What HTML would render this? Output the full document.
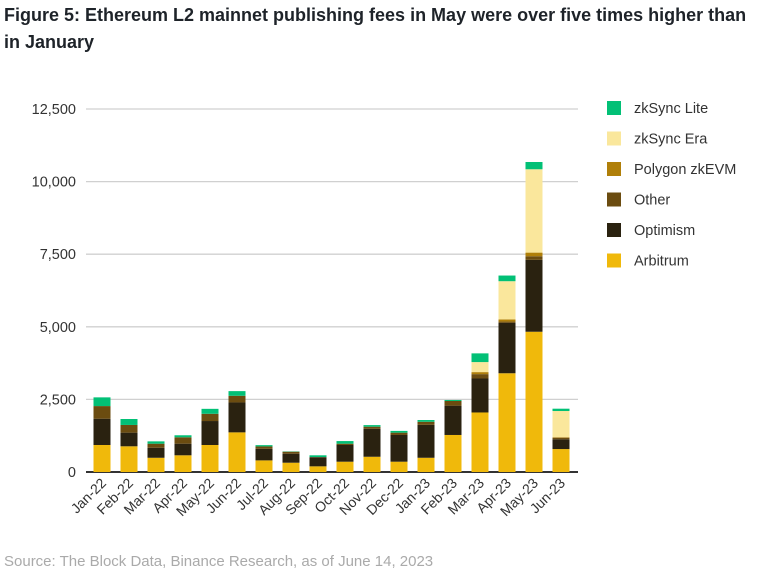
<!DOCTYPE html>
<html><head><meta charset="utf-8"><style>
body{margin:0;background:#fff;width:760px;height:575px;overflow:hidden;font-family:"Liberation Sans",sans-serif}
#title{position:absolute;left:4px;top:2px;width:756px;font-size:18px;font-weight:bold;line-height:27px;color:#1e2329;white-space:nowrap}
#src{position:absolute;left:4px;top:553px;font-size:15px;color:#aaa}
svg{position:absolute;left:0;top:0}
</style></head><body>
<div id="title">Figure 5: Ethereum L2 mainnet publishing fees in May were over five times higher than<br>in January</div>
<svg id="chart" width="760" height="575"></svg>
<div id="src">Source: The Block Data, Binance Research, as of June 14, 2023</div>
<script>
const categories=["Jan-22","Feb-22","Mar-22","Apr-22","May-22","Jun-22","Jul-22","Aug-22","Sep-22","Oct-22","Nov-22","Dec-22","Jan-23","Feb-23","Mar-23","Apr-23","May-23","Jun-23"];
const arbitrum=[930,885,490,575,930,1365,400,320,195,355,525,355,490,1275,2050,3400,4830,790];
const optimism=[905,470,345,400,825,1030,400,310,310,575,965,920,1135,1010,1170,1735,2475,335];
const other=[435,265,140,220,250,230,80,70,10,45,70,80,105,160,150,45,125,55];
const polygon=[0,0,0,0,0,0,0,0,0,0,0,0,0,0,70,75,125,20];
const zksyncEra=[0,0,0,0,0,0,0,0,0,0,0,0,0,0,345,1315,2870,900];
const zksyncLite=[300,205,80,70,170,160,45,10,60,90,55,60,60,35,300,195,250,80];
const yTicks=[0,2500,5000,7500,10000,12500];
const seriesNames=["zkSync Lite","zkSync Era","Polygon zkEVM","Other","Optimism","Arbitrum"];
const seriesColors={"Arbitrum":"#f0b90b","Optimism":"#2a2210","Other":"#6b4c10","Polygon zkEVM":"#b07f09","zkSync Era":"#fae79c","zkSync Lite":"#02c076"};
const NS="http://www.w3.org/2000/svg";
const svg=document.getElementById('chart');
const x0=86,x1=578,yb=472,yt=109,vmax=12500;
const y=v=>yb-(v/vmax)*(yb-yt);
const step=27,bw=17;
const xc=i=>102+i*step;
function mk(t,a){const e=document.createElementNS(NS,t);for(const k in a)e.setAttribute(k,a[k]);svg.appendChild(e);return e;}
yTicks.forEach(v=>{
  const g=mk('line',{x1:x0,x2:x1,y1:y(v),y2:y(v),stroke:v===0?'#333':'#d0d0d0','stroke-width':v===0?2:1.3});
  
  
  const t=mk('text',{x:76,y:y(v)+5,'text-anchor':'end','font-size':14.5,fill:'#333'});
  t.textContent=v.toLocaleString('en-US');
  
  
});
const stack=[["Arbitrum",arbitrum],["Optimism",optimism],["Other",other],["Polygon zkEVM",polygon],["zkSync Era",zksyncEra],["zkSync Lite",zksyncLite]];
categories.forEach((c,i)=>{
  let acc=0;
  stack.forEach(([n,arr])=>{
    const v=arr[i];if(v<=0)return;
    const r=mk('rect',{x:xc(i)-bw/2,y:y(acc+v),width:bw,height:y(acc)-y(acc+v),fill:seriesColors[n]});
    
    
    acc+=v;
  });
  const t=mk('text',{x:xc(i)+5,y:yb+12,'text-anchor':'end','font-size':14,fill:'#333',transform:`rotate(-45 ${xc(i)+5} ${yb+12})`});
  t.textContent=c;
  
  
});
seriesNames.forEach((n,k)=>{
  const yy=108+k*30.5;
  const r=mk('rect',{x:607,y:yy-7,width:14,height:14,fill:seriesColors[n]});
  
  
  const t=mk('text',{x:634,y:yy+5,'font-size':14.5,fill:'#333'});
  t.textContent=n;
  
  
});
</script>
</body></html>
